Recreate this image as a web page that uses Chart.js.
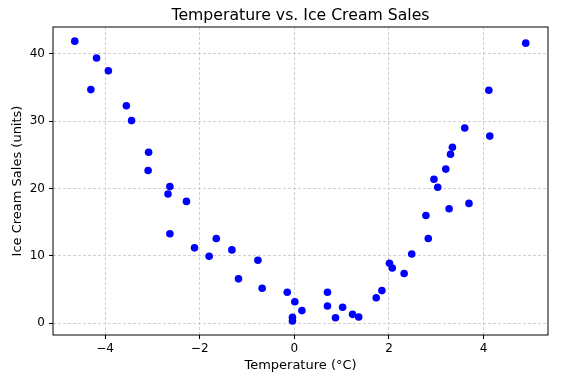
<!DOCTYPE html>
<html>
<head>
<meta charset="utf-8">
<script src="https://cdn.jsdelivr.net/npm/chart.js@4"></script>
<style>
  html, body { margin: 0; padding: 0; background: #fff; }
  #wrap { width: 573px; height: 380px; }
</style>
</head>
<body>
<div id="wrap"><canvas id="scatterChart" width="573" height="380"></canvas></div>
<script>
const temperatures = [
  -4.64, -4.30, -4.18, -3.93, -3.55, -3.44, -3.08, -3.09, -2.63, -2.67,
  -2.28, -2.63, -2.11, -1.80, -1.65, -1.32, -1.18, -0.77, -0.68, -0.15,
  0.01, 0.16, -0.04, -0.04, 0.70, 0.70, 0.87, 1.02, 1.23, 1.36,
  1.73, 1.85, 2.01, 2.07, 2.32, 2.48, 2.83, 2.78, 3.27, 3.69,
  3.03, 2.95, 3.20, 4.89, 4.11, 3.60, 4.13, 3.34, 3.30
];
const sales = [
  41.9, 34.7, 39.4, 37.5, 32.3, 30.1, 25.4, 22.7, 20.3, 19.2,
  18.1, 13.3, 11.2, 9.95, 12.6, 10.9, 6.6, 9.36, 5.2, 4.6,
  3.2, 1.88, 0.9, 0.34, 4.6, 2.57, 0.83, 2.37, 1.33, 0.94,
  3.8, 4.85, 8.9, 8.2, 7.4, 10.3, 12.6, 16.0, 17.0, 17.8,
  20.2, 21.4, 22.9, 41.6, 34.6, 29.0, 27.8, 26.15, 25.1
];
const xTicks = [-4, -2, 0, 2, 4];
const yTicks = [0, 10, 20, 30, 40];

const points = temperatures.map((t, i) => ({ x: t, y: sales[i] }));
const fontFamily = '"DejaVu Sans", sans-serif';
const fmt = (v) => (v < 0 ? '\u2212' + Math.abs(v) : String(v));

// title text and the full box around the axes
const framePlugin = {
  id: 'frame',
  afterDraw(chart) {
    const { ctx, chartArea } = chart;
    ctx.save();
    ctx.strokeStyle = '#000';
    ctx.lineWidth = 1;
    ctx.strokeRect(chartArea.left, chartArea.top, chartArea.right - chartArea.left, chartArea.bottom - chartArea.top);
    ctx.fillStyle = '#000';
    ctx.font = '15.7px ' + fontFamily;
    ctx.textAlign = 'center';
    ctx.textBaseline = 'middle';
    ctx.fillText('Temperature vs. Ice Cream Sales', (chartArea.left + chartArea.right) / 2, 15.5);
    ctx.restore();
  }
};

new Chart(document.getElementById('scatterChart'), {
  type: 'scatter',
  data: {
    datasets: [{
      data: points,
      backgroundColor: '#0000ff',
      borderWidth: 0,
      pointRadius: 3.8,
      pointHoverRadius: 3.8
    }]
  },
  options: {
    responsive: false,
    animation: false,
    devicePixelRatio: 1,
    layout: { padding: { top: 27, right: 25, left: 0, bottom: 0 } },
    plugins: { legend: { display: false }, tooltip: { enabled: false } },
    scales: {
      x: {
        type: 'linear',
        min: -5.1,
        max: 5.36,
        afterFit: (s) => { s.height = 45; },
        afterBuildTicks: (s) => { s.ticks = xTicks.map(v => ({ value: v })); },
        ticks: { callback: fmt, color: '#000', padding: 3, maxRotation: 0, font: { family: fontFamily, size: 12 } },
        grid: { color: '#c4c4c4', lineWidth: 0.8, tickColor: '#000', tickLength: 4, tickWidth: 1 },
        border: { display: false, dash: [3, 2] },
        title: { display: true, text: 'Temperature (\u00b0C)', color: '#000', padding: { top: 0, bottom: 7 }, font: { family: fontFamily, size: 13 } }
      },
      y: {
        type: 'linear',
        min: -1.74,
        max: 44.0,
        afterFit: (s) => { s.width = 53; },
        afterBuildTicks: (s) => { s.ticks = yTicks.map(v => ({ value: v })); },
        ticks: { callback: fmt, color: '#000', padding: 4, font: { family: fontFamily, size: 12 } },
        grid: { color: '#c4c4c4', lineWidth: 0.8, tickColor: '#000', tickLength: 4, tickWidth: 1 },
        border: { display: false, dash: [3, 2] },
        title: { display: true, text: 'Ice Cream Sales (units)', color: '#000', padding: { top: 10, bottom: 0 }, font: { family: fontFamily, size: 13 } }
      }
    }
  },
  plugins: [framePlugin]
});
</script>
</body>
</html>
